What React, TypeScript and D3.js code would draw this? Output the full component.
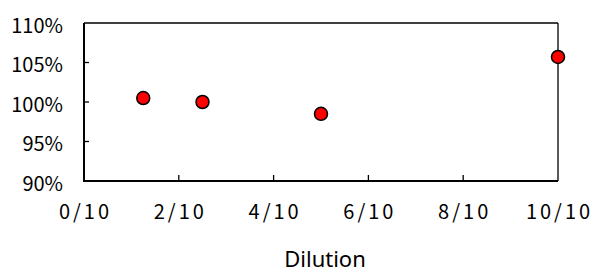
import React from 'react'
import * as d3 from 'd3';

const dilution = [1.25, 2.5, 5, 10];
const recovery = [100.5, 100.0, 98.5, 105.7];
const xTicks = [0, 2, 4, 6, 8, 10];
const yTicks = [90, 95, 100, 105, 110];

const App: React.FC = () => {
  const width = 603;
  const height = 273;
  const left = 84, right = 558, top = 23, bottom = 181;

  const x = d3.scaleLinear().domain([0, 10]).range([left, right]);
  const y = d3.scaleLinear().domain([90, 110]).range([bottom, top]);
  const font = "'Noto Sans CJK JP', 'Liberation Sans', sans-serif";

  return (
    <svg width={width} height={height} style={{position: 'absolute', left: 0, top: 0}}>
      <rect width={width} height={height} fill='#fff' />
      {/* frame */}
      <line x1={left} y1={top} x2={right} y2={top} stroke='#000' strokeWidth={1.3} />
      <line x1={right} y1={top} x2={right} y2={bottom} stroke='#000' strokeWidth={1.3} />
      <line x1={left} y1={top} x2={left} y2={bottom + 1} stroke='#000' strokeWidth={2} />
      <line x1={left - 1} y1={bottom} x2={right} y2={bottom} stroke='#000' strokeWidth={2} />
      {yTicks.slice(1, -1).map(v => (
        <line key={v} x1={left} x2={left + 5} y1={y(v)} y2={y(v)} stroke='#000' strokeWidth={1.3} />
      ))}
      {xTicks.slice(1, -1).map(v => (
        <line key={v} x1={x(v)} x2={x(v)} y1={bottom} y2={bottom - 6} stroke='#000' strokeWidth={1.3} />
      ))}
      {yTicks.map(v => (
        <text key={v} x={63} y={y(v) + 9.5} textAnchor='end' fontSize={20} fontFamily={font} fill='#000'>
          {v}%
        </text>
      ))}
      {xTicks.map(v => (
        <text key={v} x={x(v)} dx={1.5} y={218.5} textAnchor='middle' fontSize={20} letterSpacing={3}
          fontFamily={font} fill='#000'>
          {v}/10
        </text>
      ))}
      <text x={325} y={267} textAnchor='middle' fontSize={22} fontFamily="'Noto Sans', sans-serif" fill='#000'>
        Dilution
      </text>
      {dilution.map((d, i) => (
        <circle key={i} cx={x(d)} cy={y(recovery[i])} r={6.5} fill='#ff0000' stroke='#000' strokeWidth={1.5} />
      ))}
    </svg>
  )
}

export default App
